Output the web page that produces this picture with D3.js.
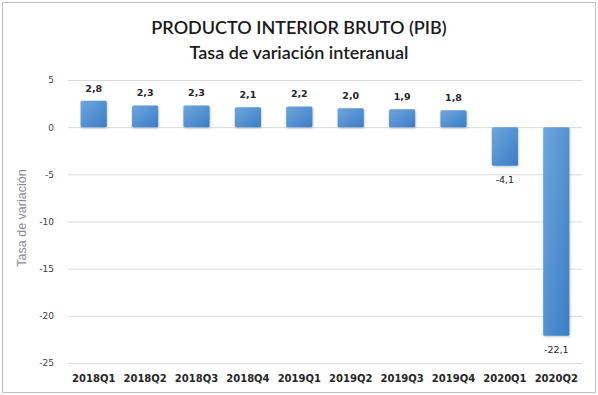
<!DOCTYPE html>
<html>
<head>
<meta charset="utf-8">
<script src="https://cdn.jsdelivr.net/npm/d3@7"></script>
<style>
  body { margin: 0; background: #fff; }
  svg { display: block; }
</style>
</head>
<body>
<svg id="chart"></svg>
<script>
let width = 598,
    height = 395;

// data
let quarters = ["2018Q1", "2018Q2", "2018Q3", "2018Q4", "2019Q1", "2019Q2", "2019Q3", "2019Q4", "2020Q1", "2020Q2"];
let values = [2.8, 2.3, 2.3, 2.1, 2.2, 2.0, 1.9, 1.8, -4.1, -22.1];
let yTicks = [5, 0, -5, -10, -15, -20, -25];
let titleLines = ["PRODUCTO INTERIOR BRUTO (PIB)", "Tasa de variación interanual"];

let margin = {top: 80, right: 16, bottom: 32, left: 68};

let svg = d3.select('#chart')
    .attr('width', width)
    .attr('height', height);

// frame
svg.append('rect')
    .attr('x', 2.5).attr('y', 2.5)
    .attr('width', width - 5).attr('height', height - 5)
    .style('fill', '#fff')
    .style('stroke', '#bfbfbf');

let defs = svg.append('defs');
let grad = defs.append('linearGradient')
    .attr('id', 'barGrad')
    .attr('x1', '0').attr('y1', '0').attr('x2', '1').attr('y2', '1');
grad.append('stop').attr('offset', '0%').attr('stop-color', '#6fa6de');
grad.append('stop').attr('offset', '100%').attr('stop-color', '#3b7dc5');

let shadow = defs.append('filter').attr('id', 'shadow')
    .attr('x', '-20%').attr('y', '-20%').attr('width', '140%').attr('height', '140%');
shadow.append('feDropShadow')
    .attr('dx', 0.5).attr('dy', 1)
    .attr('stdDeviation', 1)
    .attr('flood-color', '#000')
    .attr('flood-opacity', 0.25);

let x = d3.scaleBand()
    .domain(quarters)
    .range([margin.left, width - margin.right])
    .paddingInner(0.49)
    .paddingOuter(0.245);

let y = d3.scaleLinear()
    .domain([-25, 5])
    .range([height - margin.bottom, margin.top]);

// gridlines
svg.append('g')
    .selectAll('line')
    .data(yTicks)
    .enter()
    .append('line')
    .attr('x1', margin.left)
    .attr('x2', width - margin.right)
    .attr('y1', d => y(d) + 0.5)
    .attr('y2', d => y(d) + 0.5)
    .style('stroke', '#d9d9d9')
    .style('stroke-width', 1);

// y axis labels
let yAxis = d3.axisLeft(y)
    .tickValues(yTicks)
    .tickSize(0)
    .tickPadding(14)
    .tickFormat(d3.format('d'));

let yG = svg.append('g')
    .attr('transform', 'translate(' + margin.left + ',0)')
    .call(yAxis);
yG.select('.domain').remove();
yG.selectAll('text')
    .style('font-family', "'DejaVu Sans', sans-serif")
    .style('font-size', '9px')
    .style('fill', '#404040')
    .text(d => String(d));

// x axis labels
let xAxis = d3.axisBottom(x).tickSize(0).tickPadding(12);
let xG = svg.append('g')
    .attr('transform', 'translate(0,' + y(-25) + ')')
    .call(xAxis);
xG.select('.domain').remove();
xG.selectAll('text')
    .style('font-family', "'DejaVu Sans', sans-serif")
    .style('font-size', '10px')
    .style('font-weight', 'bold')
    .style('fill', '#262626');

// bars
svg.append('g')
    .selectAll('rect')
    .data(values)
    .enter()
    .append('rect')
    .attr('x', (d, i) => x(quarters[i]))
    .attr('width', x.bandwidth())
    .attr('y', d => y(Math.max(0, d)))
    .attr('height', d => Math.abs(y(d) - y(0)))
    .attr('rx', 1.5)
    .style('fill', 'url(#barGrad)')
    .attr('filter', 'url(#shadow)');

// data labels
let fmt = d => d3.format('.1f')(d).replace('.', ',').replace('−', '-');
svg.append('g')
    .selectAll('text')
    .data(values)
    .enter()
    .append('text')
    .attr('x', (d, i) => x(quarters[i]) + x.bandwidth() / 2)
    .attr('y', d => d >= 0 ? y(d) - 9 : y(d) + 17)
    .attr('text-anchor', 'middle')
    .style('font-family', "'DejaVu Sans', sans-serif")
    .style('font-size', '9.5px')
    .style('font-weight', d => d >= 0 ? 'bold' : 'normal')
    .style('fill', '#262626')
    .text(fmt);

// titles
svg.append('g')
    .selectAll('text')
    .data(titleLines)
    .enter()
    .append('text')
    .attr('x', width / 2)
    .attr('y', (d, i) => 34 + i * 25)
    .attr('text-anchor', 'middle')
    .style('font-family', "Lato, 'Open Sans', sans-serif")
    .style('font-size', '18px')
    .style('font-weight', '600')
    .style('fill', '#1a1a1a')
    .text(d => d);

// y axis title
svg.append('text')
    .attr('transform', 'translate(26,' + 218 + ') rotate(-90)')
    .attr('text-anchor', 'middle')
    .style('font-family', "'Liberation Sans', Arial, sans-serif")
    .style('font-size', '12.5px')
    .style('fill', '#8c8c8c')
    .text('Tasa de variación');
</script>
</body>
</html>
